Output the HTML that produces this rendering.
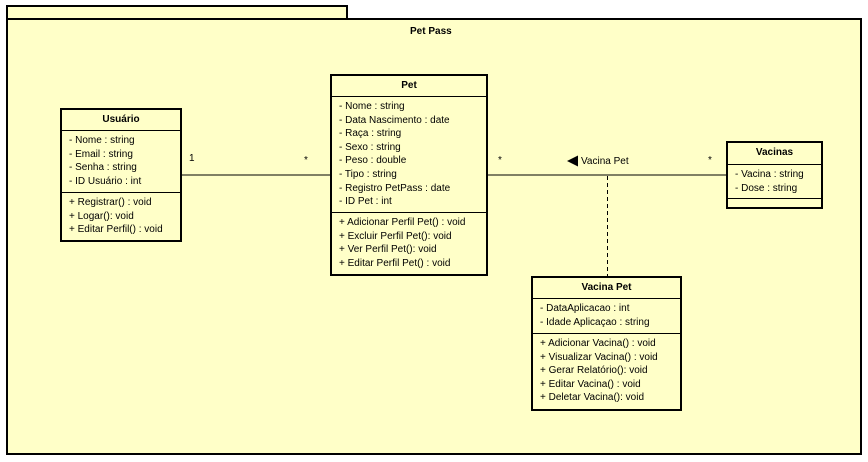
<!DOCTYPE html>
<html><head><meta charset="utf-8"><style>
body{margin:0;width:868px;height:462px;background:#fff;position:relative;font-family:"Liberation Sans",Arial,sans-serif;font-size:10px;color:#000;overflow:hidden}
.a{position:absolute;box-sizing:border-box}
.box{position:absolute;box-sizing:border-box;border:2px solid #000;background:#ffffc8}
.hd{font-weight:bold;text-align:center;border-bottom:1px solid #000;box-sizing:border-box}
.sec{box-sizing:border-box;border-bottom:1px solid #000;padding:3px 0 2px 7px;line-height:13.6px;white-space:nowrap}
.sec:last-child{border-bottom:none}
.t{position:absolute;white-space:nowrap;line-height:12px}
</style></head><body>
<div class="box" style="left:6px;top:5px;width:342px;height:15px"></div>
<div class="box" style="left:6px;top:18px;width:856px;height:437px"></div>
<div class="t" style="left:410px;top:26px;font-weight:bold">Pet Pass</div>
<svg class="a" style="left:0;top:0" width="868" height="462">
<line x1="181" y1="175" x2="331" y2="175" stroke="#000" stroke-width="1"/>
<line x1="487" y1="175" x2="727" y2="175" stroke="#000" stroke-width="1"/>
<line x1="607.5" y1="176" x2="607.5" y2="277" stroke="#000" stroke-width="1" stroke-dasharray="4,3"/>
<polygon points="567,161 578,155.5 578,166.5" fill="#000"/>
</svg>
<div class="t" style="left:189px;top:153px">1</div>
<div class="t" style="left:304px;top:155px">*</div>
<div class="t" style="left:498px;top:155px">*</div>
<div class="t" style="left:708px;top:155px">*</div>
<div class="t" style="left:581px;top:156px">Vacina Pet</div>

<div class="box" style="left:60px;top:108px;width:122px;height:134px">
<div class="hd" style="height:21px;line-height:19px">Usuário</div>
<div class="sec" style="height:62px">- Nome : string<br>- Email : string<br>- Senha : string<br>- ID Usuário : int</div>
<div class="sec">+ Registrar() : void<br>+ Logar(): void<br>+ Editar Perfil() : void</div>
</div>

<div class="box" style="left:330px;top:74px;width:158px;height:202px">
<div class="hd" style="height:21px;line-height:19px">Pet</div>
<div class="sec" style="height:116px">- Nome : string<br>- Data Nascimento : date<br>- Raça : string<br>- Sexo : string<br>- Peso : double<br>- Tipo : string<br>- Registro PetPass : date<br>- ID Pet : int</div>
<div class="sec">+ Adicionar Perfil Pet() : void<br>+ Excluir Perfil Pet(): void<br>+ Ver Perfil Pet(): void<br>+ Editar Perfil Pet() : void</div>
</div>

<div class="box" style="left:726px;top:141px;width:97px;height:68px">
<div class="hd" style="height:22px;line-height:20px">Vacinas</div>
<div class="sec" style="height:34px">- Vacina : string<br>- Dose : string</div>
<div class="sec" style="padding:0"></div>
</div>

<div class="box" style="left:531px;top:276px;width:151px;height:135px">
<div class="hd" style="height:21px;line-height:19px">Vacina Pet</div>
<div class="sec" style="height:35px">- DataAplicacao : int<br>- Idade Aplicaçao : string</div>
<div class="sec">+ Adicionar Vacina() : void<br>+ Visualizar Vacina() : void<br>+ Gerar Relatório(): void<br>+ Editar Vacina() : void<br>+ Deletar Vacina(): void</div>
</div>
</body></html>
